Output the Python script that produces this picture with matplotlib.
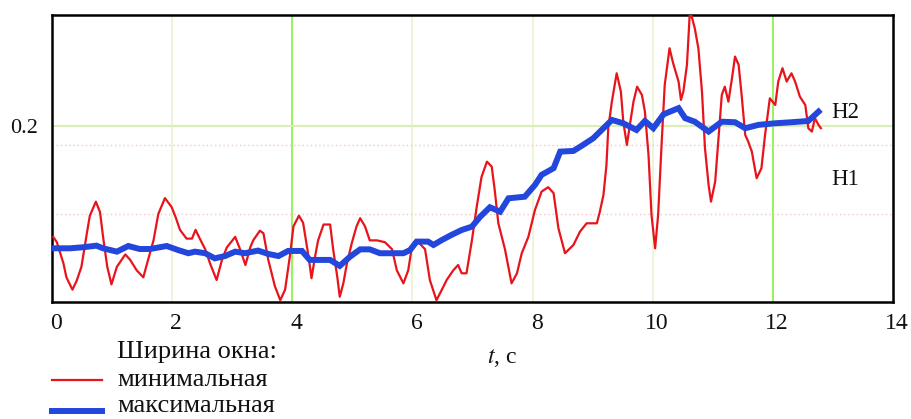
import matplotlib
matplotlib.use("Agg")
import matplotlib.pyplot as plt
import matplotlib.transforms as mtransforms

# red curve: minimal window width
t_min = [0.02, 0.08, 0.19, 0.24, 0.34, 0.41, 0.49, 0.58, 0.63, 0.73, 0.80, 0.85, 0.92, 0.99,
         1.08, 1.22, 1.30, 1.41, 1.52, 1.60, 1.69, 1.77, 1.88, 1.99, 2.06, 2.13, 2.24, 2.33,
         2.39, 2.46, 2.55, 2.63, 2.74, 2.83, 2.91, 3.05, 3.13, 3.22, 3.30, 3.35, 3.46, 3.52,
         3.60, 3.71, 3.80, 3.88, 3.96, 4.02, 4.11, 4.18, 4.27, 4.32, 4.38, 4.43, 4.52, 4.63,
         4.68, 4.75, 4.79, 4.85, 4.91, 4.99, 5.07, 5.13, 5.21, 5.29, 5.41, 5.54, 5.66, 5.74,
         5.85, 5.93, 5.99, 6.07, 6.21, 6.29, 6.40, 6.49, 6.57, 6.68, 6.76, 6.82, 6.90, 6.99,
         7.07, 7.15, 7.24, 7.32, 7.37, 7.43, 7.54, 7.65, 7.74, 7.82, 7.93, 8.04, 8.15, 8.26,
         8.35, 8.43, 8.54, 8.68, 8.79, 8.90, 9.07, 9.12, 9.18, 9.23, 9.26, 9.32, 9.40, 9.47,
         9.51, 9.57, 9.62, 9.68, 9.74, 9.82, 9.87, 9.93, 9.98, 10.04, 10.09, 10.15, 10.20,
         10.28, 10.34, 10.43, 10.47, 10.51, 10.57, 10.62, 10.70, 10.76, 10.82, 10.87, 10.93,
         10.97, 11.04, 11.09, 11.15, 11.20, 11.26, 11.32, 11.37, 11.43, 11.48, 11.54, 11.59,
         11.65, 11.73, 11.81, 11.87, 11.95, 12.04, 12.09, 12.16, 12.23, 12.31, 12.37, 12.45,
         12.54, 12.59, 12.65, 12.70, 12.76, 12.80]
v_min = [0.137, 0.134, 0.122, 0.114, 0.107, 0.112, 0.120, 0.139, 0.149, 0.157, 0.151, 0.137,
         0.120, 0.110, 0.120, 0.127, 0.124, 0.118, 0.114, 0.124, 0.135, 0.150, 0.159, 0.154,
         0.148, 0.141, 0.136, 0.136, 0.141, 0.136, 0.130, 0.122, 0.1125, 0.124, 0.131, 0.137,
         0.130, 0.121, 0.131, 0.135, 0.1405, 0.139, 0.124, 0.109, 0.101, 0.107, 0.126, 0.143,
         0.149, 0.145, 0.126, 0.1135, 0.126, 0.135, 0.144, 0.144, 0.130, 0.114, 0.103, 0.1106,
         0.122, 0.1334, 0.143, 0.1476, 0.143, 0.135, 0.135, 0.134, 0.130, 0.118, 0.1106, 0.118,
         0.131, 0.135, 0.130, 0.1125, 0.101, 0.107, 0.1125, 0.118, 0.121, 0.1163, 0.1163, 0.135,
         0.154, 0.171, 0.1797, 0.1769, 0.1636, 0.1447, 0.130, 0.1106, 0.1163, 0.1277, 0.137,
         0.1523, 0.1627, 0.1652, 0.1618, 0.1419, 0.1277, 0.1324, 0.140, 0.1447, 0.1447, 0.1513,
         0.1608, 0.1778, 0.1987, 0.2138, 0.2299, 0.2195, 0.2024, 0.1892, 0.2006, 0.2138, 0.2223,
         0.2176, 0.2081, 0.1835, 0.1494, 0.1305, 0.1494, 0.1911, 0.2233, 0.2441, 0.2356, 0.2252,
         0.2148, 0.2195, 0.2347, 0.266, 0.2555, 0.2441, 0.2195, 0.1873, 0.1665, 0.157, 0.1684,
         0.1911, 0.2176, 0.2223, 0.2138, 0.2271, 0.2394, 0.2347, 0.2176, 0.1949, 0.1911, 0.1854,
         0.1703, 0.176, 0.1949, 0.2157, 0.2119, 0.2252, 0.2328, 0.2252, 0.2299, 0.2252, 0.2166,
         0.2119, 0.1987, 0.1968, 0.2044, 0.2006, 0.1987]

# blue curve: maximal window width
t_max = [0.0, 0.30, 0.52, 0.74, 0.85, 1.08, 1.27, 1.46, 1.63, 1.91, 2.10, 2.27, 2.38, 2.55,
         2.71, 2.88, 3.05, 3.21, 3.43, 3.60, 3.77, 3.93, 4.16, 4.29, 4.46, 4.63, 4.79, 4.96,
         5.13, 5.29, 5.46, 5.63, 5.85, 5.96, 6.07, 6.26, 6.35, 6.49, 6.65, 6.82, 6.99, 7.13,
         7.29, 7.46, 7.60, 7.87, 8.04, 8.15, 8.35, 8.46, 8.68, 8.84, 9.01, 9.18, 9.32, 9.51,
         9.73, 9.87, 10.01, 10.18, 10.43, 10.54, 10.70, 10.93, 11.15, 11.37, 11.54, 11.76,
         12.04, 12.31, 12.59, 12.76]
v_max = [0.1305, 0.1305, 0.1311, 0.132, 0.1305, 0.1286, 0.1318, 0.1301, 0.1301, 0.1318,
         0.1295, 0.1277, 0.1286, 0.1277, 0.1248, 0.1261, 0.1286, 0.1277, 0.1292, 0.1273,
         0.1261, 0.129, 0.129, 0.1239, 0.1239, 0.1239, 0.1205, 0.1257, 0.1299, 0.1299, 0.1277,
         0.1277, 0.1277, 0.1295, 0.1343, 0.1343, 0.1324, 0.1352, 0.1381, 0.1409, 0.1428,
         0.1485, 0.1538, 0.1513, 0.1589, 0.1598, 0.1665, 0.1722, 0.176, 0.1854, 0.1858, 0.1892,
         0.193, 0.1987, 0.2034, 0.2015, 0.1977, 0.2028, 0.1987, 0.2066, 0.2101, 0.2044, 0.2024,
         0.1968, 0.2024, 0.2021, 0.1987, 0.2006, 0.2015, 0.2021, 0.2028, 0.2081]

x_ticks = [0, 2, 4, 6, 8, 10, 12, 14]
level_h1 = 0.15
level_h2 = 0.189

plt.rcParams['font.family'] = ['Liberation Serif', 'DejaVu Serif']
plt.rcParams['mathtext.fontset'] = 'stix'

fig = plt.figure(figsize=(9.11, 4.19), dpi=100)
ax = fig.add_axes([52 / 911, 117 / 419, 841 / 911, 287 / 419])

# grid lines
for x in [2, 6, 8, 10]:
    ax.axvline(x, color='#e6f5d0', lw=1.2, zorder=0)
for x in [4, 12]:
    ax.axvline(x, color='#86f03c', lw=1.2, zorder=0)
ax.axhline(0.2, color='#d8f0b8', lw=1.5, zorder=0)
ax.axhline(level_h2, color='#f2c8c8', lw=1.0, ls=(0, (1, 2)), zorder=0)
ax.axhline(level_h1, color='#f2c8c8', lw=1.0, ls=(0, (1, 2)), zorder=0)

ax.plot(t_min, v_min, color='#e8141c', lw=1.6, zorder=3)
ax.plot(t_max, v_max, color='#2346dc', lw=4.3, zorder=4, solid_joinstyle='miter')

ax.set_xlim(0, 14)
ax.set_ylim(0.1, 0.263)
ax.set_xticks(x_ticks)
ax.set_yticks([0.2])
ax.set_yticklabels(['0.2'])
ax.tick_params(axis='both', length=0, colors='#111111')
ax.tick_params(axis='x', labelsize=17, pad=8)
ax.tick_params(axis='y', labelsize=16, pad=10)
shift = mtransforms.ScaledTranslation(4 / 100, 0, fig.dpi_scale_trans)
for lbl in ax.get_xticklabels():
    lbl.set_transform(lbl.get_transform() + shift)
for s in ax.spines.values():
    s.set_linewidth(1.8)
    s.set_color('black')

ax.text(12.98, 0.2075, 'H2', fontsize=16.5, color='#111111', va='center')
ax.text(12.98, 0.1695, 'H1', fontsize=16.5, color='#111111', va='center')

fig.text(502 / 911, 1 - 358 / 419, '$t$, с', fontsize=17, ha='center', va='center',
         color='#111111')

# legend
fig.text(117 / 911, 1 - 358 / 419, 'Ширина окна:', fontsize=19, va='baseline', color='#111111')
fig.text(117 / 911, 1 - 386 / 419, 'минимальная', fontsize=19, va='baseline', color='#111111')
fig.text(117 / 911, 1 - 412 / 419, 'максимальная', fontsize=19, va='baseline', color='#111111')
fig.add_artist(plt.Line2D([52 / 911, 102 / 911], [1 - 380 / 419, 1 - 380 / 419],
                          color='#e8141c', lw=1.6))
fig.add_artist(plt.Line2D([52 / 911, 102 / 911], [1 - 411 / 419, 1 - 411 / 419],
                          color='#2346dc', lw=4.3))

fig.savefig('out.png', dpi=100)
